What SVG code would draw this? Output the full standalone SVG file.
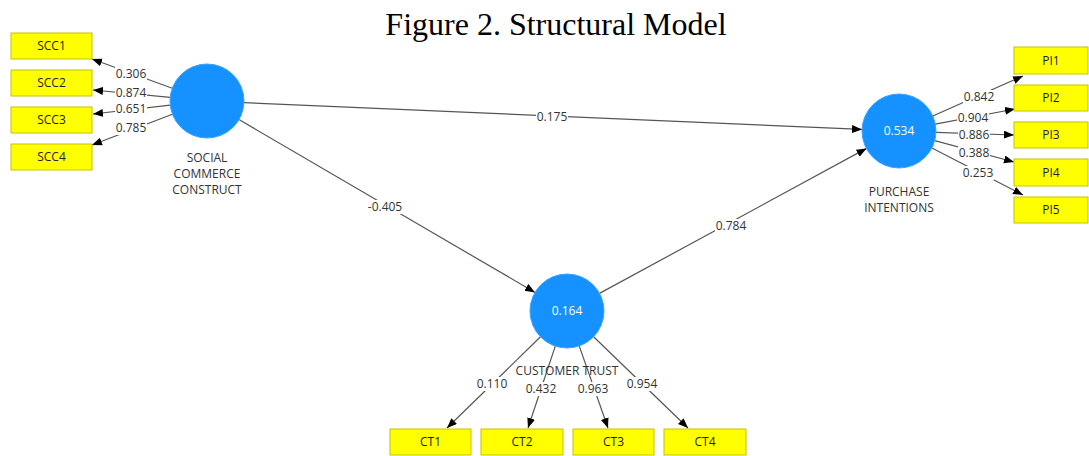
<svg xmlns="http://www.w3.org/2000/svg" width="1089" height="456" viewBox="0 0 1089 456">
<style>
.title{font-family:"Liberation Serif","Times New Roman",serif;font-size:32px;fill:#000}
.box{fill:#ffff00;stroke:#c4c400;stroke-width:1}
.btxt{font-family:"Open Sans","DejaVu Sans",sans-serif;font-size:12px;fill:#222;text-anchor:middle}
.circ{fill:#1592ff;stroke:#3aa2ff;stroke-width:1}
.ctxt{font-family:"Open Sans","DejaVu Sans",sans-serif;font-size:12px;fill:#ffffff;text-anchor:middle}
.name{font-family:"Open Sans","DejaVu Sans",sans-serif;font-size:12px;fill:#333;text-anchor:middle}
.edge{stroke:#555;stroke-width:1.2;fill:none;marker-end:url(#arr)}
.lbl{font-family:"Open Sans","DejaVu Sans",sans-serif;font-size:12px;fill:#333;text-anchor:middle}
.lbg{fill:#fff}
</style>
<defs>
<marker id="arr" markerUnits="userSpaceOnUse" markerWidth="11" markerHeight="9" refX="10" refY="4" orient="auto">
<path d="M0,0 L10,4 L0,8 z" fill="#000"/>
</marker>
</defs>
<rect width="1089" height="456" fill="#fff"/>
<text class="title" x="556" y="35" text-anchor="middle">Figure 2. Structural Model</text>

<g id="connectors">
<line class="edge" x1="172.3" y1="88.3" x2="92" y2="59"/>
<line class="edge" x1="170.2" y1="97.4" x2="93" y2="90"/>
<line class="edge" x1="170.2" y1="105.2" x2="93" y2="114"/>
<line class="edge" x1="172.4" y1="114.2" x2="92" y2="145"/>
<line class="edge" x1="932.8" y1="116" x2="1023" y2="76"/>
<line class="edge" x1="935.3" y1="124.1" x2="1015" y2="109"/>
<line class="edge" x1="936" y1="132.3" x2="1014" y2="135"/>
<line class="edge" x1="934.7" y1="140.6" x2="1014" y2="162"/>
<line class="edge" x1="931.9" y1="148" x2="1023" y2="195"/>
<line class="edge" x1="540.5" y1="336.8" x2="447" y2="428"/>
<line class="edge" x1="555.3" y1="346.1" x2="528" y2="428"/>
<line class="edge" x1="579.2" y1="345.9" x2="608" y2="428"/>
<line class="edge" x1="593.6" y1="336.7" x2="688" y2="428"/>
<line class="edge" x1="244" y1="102.6" x2="862" y2="129.4"/>
<line class="edge" x1="239" y1="119.6" x2="535" y2="292.4"/>
<line class="edge" x1="599.5" y1="293.4" x2="866.5" y2="148.4"/>
<g id="edge-labels">
<rect class="lbg" x="115" y="67" width="32" height="14"/><text class="lbl" x="131" y="78">0.306</text>
<rect class="lbg" x="115" y="86" width="32" height="14"/><text class="lbl" x="131" y="97">0.874</text>
<rect class="lbg" x="115" y="102" width="32" height="14"/><text class="lbl" x="131" y="113">0.651</text>
<rect class="lbg" x="115" y="121" width="32" height="14"/><text class="lbl" x="131" y="132">0.785</text>
<rect class="lbg" x="963" y="90" width="32" height="14"/><text class="lbl" x="979" y="101">0.842</text>
<rect class="lbg" x="957" y="111" width="32" height="14"/><text class="lbl" x="973" y="122">0.904</text>
<rect class="lbg" x="958" y="128" width="32" height="14"/><text class="lbl" x="974" y="139">0.886</text>
<rect class="lbg" x="958" y="146" width="32" height="14"/><text class="lbl" x="974" y="157">0.388</text>
<rect class="lbg" x="962" y="166" width="32" height="14"/><text class="lbl" x="978" y="177">0.253</text>
<rect class="lbg" x="476" y="377" width="32" height="14"/><text class="lbl" x="492" y="388">0.110</text>
<rect class="lbg" x="525" y="382" width="32" height="14"/><text class="lbl" x="541" y="393">0.432</text>
<rect class="lbg" x="577" y="382" width="32" height="14"/><text class="lbl" x="593" y="393">0.963</text>
<rect class="lbg" x="626" y="377" width="32" height="14"/><text class="lbl" x="642" y="388">0.954</text>
<rect class="lbg" x="536" y="110" width="32" height="14"/><text class="lbl" x="552" y="121">0.175</text>
<rect class="lbg" x="366" y="200" width="38" height="14"/><text class="lbl" x="385" y="211">-0.405</text>
<rect class="lbg" x="715" y="219" width="32" height="14"/><text class="lbl" x="731" y="230">0.784</text>
</g>
</g>

<g id="SCC">
<circle class="circ" cx="207" cy="101" r="37"/>
<text class="name" x="207" y="162">SOCIAL</text>
<text class="name" x="207" y="178">COMMERCE</text>
<text class="name" x="207" y="194">CONSTRUCT</text>
</g>
<g id="PI">
<circle class="circ" cx="899" cy="131" r="37"/>
<text class="ctxt" x="899" y="135">0.534</text>
<text class="name" x="899" y="196">PURCHASE</text>
<text class="name" x="899" y="212">INTENTIONS</text>
</g>
<g id="CT">
<circle class="circ" cx="567" cy="311" r="37"/>
<text class="ctxt" x="567" y="315">0.164</text>
<text class="name" x="567" y="375">CUSTOMER TRUST</text>
</g>

<g id="SCC1"><rect class="box" x="11" y="33" width="81" height="26"/><text class="btxt" x="51.5" y="50">SCC1</text></g>
<g id="SCC2"><rect class="box" x="11" y="70" width="81" height="26"/><text class="btxt" x="51.5" y="87">SCC2</text></g>
<g id="SCC3"><rect class="box" x="11" y="107" width="81" height="26"/><text class="btxt" x="51.5" y="124">SCC3</text></g>
<g id="SCC4"><rect class="box" x="11" y="144" width="81" height="26"/><text class="btxt" x="51.5" y="161">SCC4</text></g>

<g id="PI1"><rect class="box" x="1014" y="47" width="74" height="27"/><text class="btxt" x="1051" y="65">PI1</text></g>
<g id="PI2"><rect class="box" x="1014" y="85" width="74" height="26"/><text class="btxt" x="1051" y="102">PI2</text></g>
<g id="PI3"><rect class="box" x="1014" y="122" width="74" height="26"/><text class="btxt" x="1051" y="139">PI3</text></g>
<g id="PI4"><rect class="box" x="1014" y="159" width="74" height="27"/><text class="btxt" x="1051" y="177">PI4</text></g>
<g id="PI5"><rect class="box" x="1014" y="197" width="74" height="26"/><text class="btxt" x="1051" y="214">PI5</text></g>

<g id="CT1"><rect class="box" x="390" y="429" width="81" height="26"/><text class="btxt" x="430.5" y="446">CT1</text></g>
<g id="CT2"><rect class="box" x="481" y="429" width="82" height="26"/><text class="btxt" x="522" y="446">CT2</text></g>
<g id="CT3"><rect class="box" x="573" y="429" width="81" height="26"/><text class="btxt" x="613.5" y="446">CT3</text></g>
<g id="CT4"><rect class="box" x="664" y="429" width="82" height="26"/><text class="btxt" x="705" y="446">CT4</text></g>
</svg>
